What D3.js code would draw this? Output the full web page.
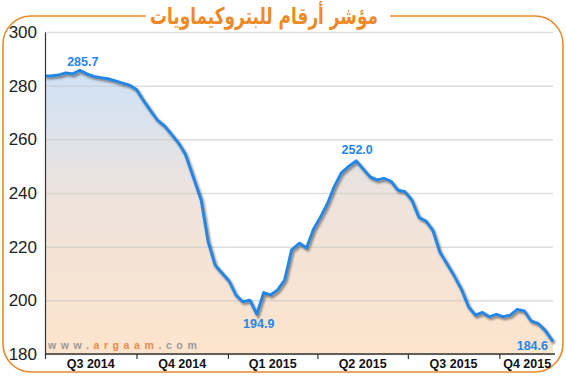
<!DOCTYPE html>
<html>
<head>
<meta charset="utf-8">
<script src="https://cdn.jsdelivr.net/npm/d3@7"></script>
<style>
  html, body { margin: 0; padding: 0; background: #fff; }
  svg { display: block; }
</style>
</head>
<body>
<div id="chart"></div>
<script>
// Weekly closes of the index
const dates = [
  "2014-07-01","2014-07-08","2014-07-15","2014-07-22","2014-07-29","2014-08-05","2014-08-12","2014-08-19",
  "2014-08-26","2014-09-02","2014-09-09","2014-09-16","2014-09-24","2014-10-01","2014-10-08","2014-10-15",
  "2014-10-22","2014-10-29","2014-11-05","2014-11-12","2014-11-19","2014-11-28","2014-12-05","2014-12-12",
  "2014-12-19","2014-12-26","2015-01-02","2015-01-09","2015-01-16","2015-01-23","2015-01-30","2015-02-06",
  "2015-02-13","2015-02-20","2015-02-27","2015-03-06","2015-03-14","2015-03-21","2015-03-28","2015-04-04",
  "2015-04-11","2015-04-18","2015-04-25","2015-05-02","2015-05-10","2015-05-17","2015-05-24","2015-05-31",
  "2015-06-07","2015-06-14","2015-06-21","2015-06-28","2015-07-05","2015-07-12","2015-07-19","2015-07-26",
  "2015-08-02","2015-08-09","2015-08-16","2015-08-24","2015-08-31","2015-09-07","2015-09-14","2015-09-21",
  "2015-09-28","2015-10-05","2015-10-12","2015-10-19","2015-10-26","2015-11-02","2015-11-09","2015-11-16",
  "2015-11-24"
];
const values = [
  283.6, 283.7, 284.0, 284.8, 284.4, 285.7, 284.4, 283.5,
  283.0, 282.6, 281.9, 281.1, 280.2, 278.6, 274.5, 270.8,
  267.2, 265.1, 262.0, 258.8, 254.6, 245.0, 237.5, 222.0,
  213.2, 210.2, 207.3, 202.0, 199.5, 200.1, 194.9, 202.9,
  202.0, 203.9, 207.6, 218.8, 221.3, 219.5, 226.5, 231.0,
  236.0, 242.5, 247.5, 249.8, 252.0, 249.0, 246.0, 244.9,
  245.5, 244.4, 241.1, 240.5, 237.4, 231.0, 229.6, 226.2,
  218.1, 213.8, 209.5, 204.0, 197.6, 194.5, 195.5, 193.9,
  194.8, 193.9, 194.5, 196.6, 196.1, 192.3, 191.4, 188.9,
  184.6
];
const yTicks = [180, 200, 220, 240, 260, 280, 300];
const quarterStarts = ["2014-07-01","2014-10-01","2015-01-01","2015-04-01","2015-07-01","2015-10-01","2015-11-26"];
const quarterLabels = ["Q3 2014","Q4 2014","Q1 2015","Q2 2015","Q3 2015","Q4 2015"];
// highlighted points: [index, label, dx, dy, anchor]
const callouts = [
  [5, "285.7", 3, -4, "middle"],
  [30, "194.9", 2, 14, "middle"],
  [44, "252.0", 1, -7, "middle"],
  [72, "184.6", -5, 8, "end"]
];
const title = "مؤشر أرقام للبتروكيماويات";

const width = 566, height = 376;
const marginLeft = 45, marginRight = 11, marginTop = 32, marginBottom = 22;
const parse = d3.utcParse("%Y-%m-%d");
const data = dates.map((d, i) => ({ date: parse(d), value: values[i] }));

const x = d3.scaleUtc()
    .domain([parse(quarterStarts[0]), parse(quarterStarts[quarterStarts.length - 1])])
    .range([marginLeft, width - marginRight]);
const y = d3.scaleLinear()
    .domain([180, 300])
    .range([height - marginBottom, marginTop]);

const svg = d3.select("#chart").append("svg")
    .attr("width", width)
    .attr("height", height)
    .attr("viewBox", [0, 0, width, height]);

const defs = svg.append("defs");
const grad = defs.append("linearGradient")
    .attr("id", "fillGrad")
    .attr("gradientUnits", "userSpaceOnUse")
    .attr("x1", 0).attr("x2", 0)
    .attr("y1", y(285)).attr("y2", y(180));
grad.append("stop").attr("offset", "0%").attr("stop-color", "#cfe2f8");
grad.append("stop").attr("offset", "45%").attr("stop-color", "#eee3dc");
grad.append("stop").attr("offset", "100%").attr("stop-color", "#fde4cc");
defs.append("filter").attr("id", "blur")
  .append("feGaussianBlur").attr("stdDeviation", 1);

// frame with rounded corners, broken by the title
const fx0 = 3, fx1 = 563, fy0 = 16, fy1 = 372, r = 28;
const frame = d3.path();
frame.moveTo(146, fy0);
frame.lineTo(fx0 + r, fy0);
frame.arcTo(fx0, fy0, fx0, fy0 + r, r);
frame.lineTo(fx0, fy1 - r);
frame.arcTo(fx0, fy1, fx0 + r, fy1, r);
frame.lineTo(fx1 - r, fy1);
frame.arcTo(fx1, fy1, fx1, fy1 - r, r);
frame.lineTo(fx1, fy0 + r);
frame.arcTo(fx1, fy0, fx1 - r, fy0, r);
frame.lineTo(390, fy0);
svg.append("path")
    .attr("d", frame.toString())
    .attr("fill", "none")
    .attr("stroke", "#e98a2c")
    .attr("stroke-width", 1.6);

svg.append("text")
    .attr("x", 264)
    .attr("y", 24)
    .attr("text-anchor", "middle")
    .attr("direction", "rtl")
    .attr("font-family", "'DejaVu Sans', 'Noto Sans', sans-serif")
    .attr("font-weight", "bold")
    .attr("font-size", 23)
    .attr("textLength", 228)
    .attr("lengthAdjust", "spacingAndGlyphs")
    .attr("fill", "#ec8a2a")
    .text(title);

// area and grid
svg.append("path")
    .datum(data)
    .attr("fill", "url(#fillGrad)")
    .attr("d", d3.area()
        .x(d => x(d.date))
        .y0(y(180))
        .y1(d => y(d.value)));

svg.append("g")
    .attr("transform", `translate(${marginLeft},0)`)
    .call(d3.axisLeft(y).tickValues(yTicks).tickSize(-(width - marginLeft - marginRight - 2)).tickFormat(""))
    .call(g => g.select(".domain").remove())
    .call(g => g.selectAll(".tick line").attr("stroke", "#c8c8c8").attr("stroke-opacity", 0.6).attr("stroke-width", 1.5));

// line with drop shadow
const line = d3.line()
    .x(d => x(d.date))
    .y(d => y(d.value));
svg.append("path")
    .datum(data)
    .attr("transform", "translate(1.5,2)")
    .attr("fill", "none")
    .attr("stroke", "#555")
    .attr("stroke-opacity", 0.7)
    .attr("stroke-width", 3)
    .attr("filter", "url(#blur)")
    .attr("d", line);
svg.append("path")
    .datum(data)
    .attr("fill", "none")
    .attr("stroke", "#1f86ea")
    .attr("stroke-width", 2.8)
    .attr("stroke-linejoin", "round")
    .attr("d", line);

// y axis
svg.append("g")
    .attr("transform", `translate(${marginLeft},0)`)
    .call(d3.axisLeft(y).tickValues(yTicks).tickSize(0).tickPadding(8))
    .call(g => g.select(".domain").attr("stroke", "#333").attr("stroke-width", 1.2))
    .call(g => g.selectAll(".tick text")
        .attr("font-family", "'Liberation Sans Narrow', 'Arial Narrow', sans-serif")
        .attr("font-size", 17)
        .attr("fill", "#222"));

// x axis
const qDates = quarterStarts.map(parse);
svg.append("g")
    .attr("transform", `translate(0,${y(180)})`)
    .call(d3.axisBottom(x).tickValues(qDates.slice(0, -1)).tickSize(5).tickFormat(""))
    .call(g => g.select(".domain").attr("stroke", "#333").attr("stroke-width", 1.5).attr("d", `M${marginLeft},0H${width - marginRight}`))
    .call(g => g.selectAll(".tick line").attr("stroke", "#333").attr("stroke-width", 1.2));

svg.append("g")
  .selectAll("text")
  .data(quarterLabels)
  .join("text")
    .attr("x", (d, i) => (x(qDates[i]) + x(qDates[i + 1])) / 2)
    .attr("y", height - 8)
    .attr("text-anchor", "middle")
    .attr("font-family", "'Liberation Sans Narrow', 'Arial Narrow', sans-serif")
    .attr("font-weight", "bold")
    .attr("font-size", 12.5)
    .attr("fill", "#111")
    .text(d => d);

// callouts
svg.append("g")
  .selectAll("text")
  .data(callouts)
  .join("text")
    .attr("x", d => x(data[d[0]].date) + d[2])
    .attr("y", d => y(data[d[0]].value) + d[3])
    .attr("text-anchor", d => d[4])
    .attr("font-family", "'Liberation Sans Narrow', 'Arial Narrow', sans-serif")
    .attr("font-weight", "bold")
    .attr("font-size", 12.5)
    .attr("fill", "#1f86ea")
    .text(d => d[1]);

// watermark
const wm = svg.append("text")
    .attr("x", 48)
    .attr("y", 349)
    .attr("font-family", "'Liberation Sans', Arial, sans-serif")
    .attr("font-weight", "bold")
    .attr("font-size", 10.5)
    .attr("letter-spacing", 4.6);
wm.append("tspan").attr("fill", "#9a9a9a").text("www.");
wm.append("tspan").attr("fill", "#f0884a").text("argaam");
wm.append("tspan").attr("fill", "#9a9a9a").text(".com");
</script>
</body>
</html>
